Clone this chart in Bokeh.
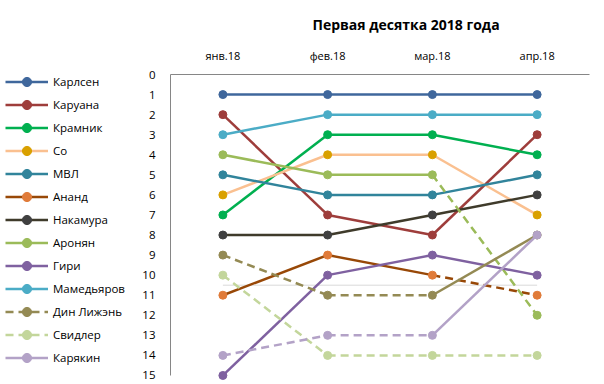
from bokeh.plotting import figure
from bokeh.layouts import row
from bokeh.models import (FactorRange, Range1d, FixedTicker, Legend, LegendItem,
                          ColumnDataSource, CustomJSTickFormatter)
from bokeh.embed import file_html
from bokeh.resources import INLINE

title_text = "Первая десятка 2018 года"
months = ["янв.18", "фев.18", "мар.18", "апр.18"]
players = ["Карлсен", "Каруана", "Крамник", "Со", "МВЛ", "Ананд", "Накамура",
           "Аронян", "Гири", "Мамедьяров", "Дин Лижэнь", "Свидлер", "Карякин"]

carlsen = [1, 1, 1, 1]
caruana = [2, 7, 8, 3]
kramnik = [7, 3, 3, 4]
so = [6, 4, 4, 7]
mvl = [5, 6, 6, 5]
anand = [11, 9, 10, 11]
nakamura = [8, 8, 7, 6]
aronian = [4, 5, 5, 12]
giri = [15, 10, 9, 10]
mamedyarov = [3, 2, 2, 2]
ding = [9, 11, 11, 8]
svidler = [10, 14, 14, 14]
karjakin = [14, 13, 13, 8]
ranks = [carlsen, caruana, kramnik, so, mvl, anand, nakamura,
         aronian, giri, mamedyarov, ding, svidler, karjakin]

line_colors = ["#3F679C", "#9E3D3B", "#00B050", "#FAC090", "#31849B", "#984807", "#3F3B2B",
               "#9BBB59", "#7F61A0", "#4BACC6", "#948A54", "#C3D69B", "#B3A2C7"]
marker_colors = ["#3F679C", "#9E3D3B", "#00B050", "#D9A000", "#31849B", "#E07B39", "#404040",
                 "#9BBB59", "#7F61A0", "#4BACC6", "#948A54", "#C3D69B", "#B3A2C7"]
legend_dashed = ["Дин Лижэнь", "Свидлер"]

rank_ticks = list(range(0, 16))
top_cutoff = 10.5

FONT = "Open Sans"
AXIS_GREY = "#868686"

# Ranks are plotted downwards (rank 1 at the top): the y scale carries -rank,
# and the tick formatter prints the rank itself.
p = figure(width=474, height=384,
           x_range=FactorRange(factors=months, range_padding=0),
           y_range=Range1d(-15.45, 0),
           x_axis_location="above",
           output_backend="svg", toolbar_location=None,
           min_border_left=40, min_border_right=15,
           min_border_top=74, min_border_bottom=0)

p.outline_line_color = None
p.grid.visible = False

p.title.text = title_text
p.title.align = "left"
p.title.offset = 142
p.title.standoff = 22
p.title.text_font = FONT
p.title.text_font_size = "14px"
p.title.text_font_style = "bold"
p.title.text_color = "#000000"

for ax in (p.xaxis, p.yaxis):
    ax.axis_line_color = AXIS_GREY
    ax.axis_line_width = 1
    ax.major_tick_line_color = None
    ax.minor_tick_line_color = None
    ax.major_label_text_font = FONT
    ax.major_label_text_color = "#000000"

p.xaxis.major_label_standoff = 6
p.xaxis.major_label_text_font_size = "11px"

p.yaxis.ticker = FixedTicker(ticks=[-t for t in rank_ticks])
p.yaxis.formatter = CustomJSTickFormatter(code="return String(Math.abs(tick));")
p.yaxis.bounds = (-rank_ticks[-1], -rank_ticks[0])
p.yaxis.major_label_standoff = 9
p.yaxis.major_label_text_font_size = "11.5px"

# boundary of the top ten
p.segment(x0=[months[0]], y0=[-top_cutoff], x1=[months[-1]], y1=[-top_cutoff],
          line_color="#D9D9D9", line_width=1)

# ---------- legend panel ----------
lg = figure(width=130, height=384, x_range=Range1d(0, 1), y_range=Range1d(0, 1),
            output_backend="svg", toolbar_location=None,
            min_border_left=0, min_border_right=0, min_border_top=0, min_border_bottom=0)
lg.axis.visible = False
lg.grid.visible = False
lg.outline_line_color = None

items = []
for name, r, lc, mc in zip(players, ranks, line_colors, marker_colors):
    solid = dict(x0=[], y0=[], x1=[], y1=[])
    dashed = dict(x0=[], y0=[], x1=[], y1=[])
    for i in range(len(months) - 1):
        tgt = dashed if r[i + 1] > top_cutoff else solid
        tgt["x0"].append(months[i]); tgt["y0"].append(-r[i])
        tgt["x1"].append(months[i + 1]); tgt["y1"].append(-r[i + 1])
    p.segment(x0="x0", y0="y0", x1="x1", y1="y1", source=ColumnDataSource(solid),
              line_color=lc, line_width=2.5)
    p.segment(x0="x0", y0="y0", x1="x1", y1="y1", source=ColumnDataSource(dashed),
              line_color=lc, line_width=2.5, line_dash="8 5")
    p.scatter(x=months, y=[-v for v in r], size=8, fill_color=mc, line_color=mc)

    # legend swatches: same styles, kept outside the (hidden) legend panel range
    dash = "8 5" if name in legend_dashed else "solid"
    l_line = lg.segment(x0=[-5], y0=[-5], x1=[-4], y1=[-5],
                        line_color=lc, line_width=2.5, line_dash=dash)
    l_dot = lg.scatter(x=[-5], y=[-5], size=8, fill_color=mc, line_color=mc)
    items.append(LegendItem(label=name, renderers=[l_line, l_dot]))

legend = Legend(items=items, location=(5, 15),
                glyph_width=43, glyph_height=23, label_height=23,
                label_standoff=5, spacing=0, padding=0, margin=0,
                border_line_color=None, background_fill_alpha=0,
                label_text_font=FONT, label_text_font_size="11.5px",
                label_text_color="#000000")
lg.add_layout(legend, "left")

layout = row(lg, p, spacing=0)
open("out.html", "w").write(file_html(layout, INLINE))
